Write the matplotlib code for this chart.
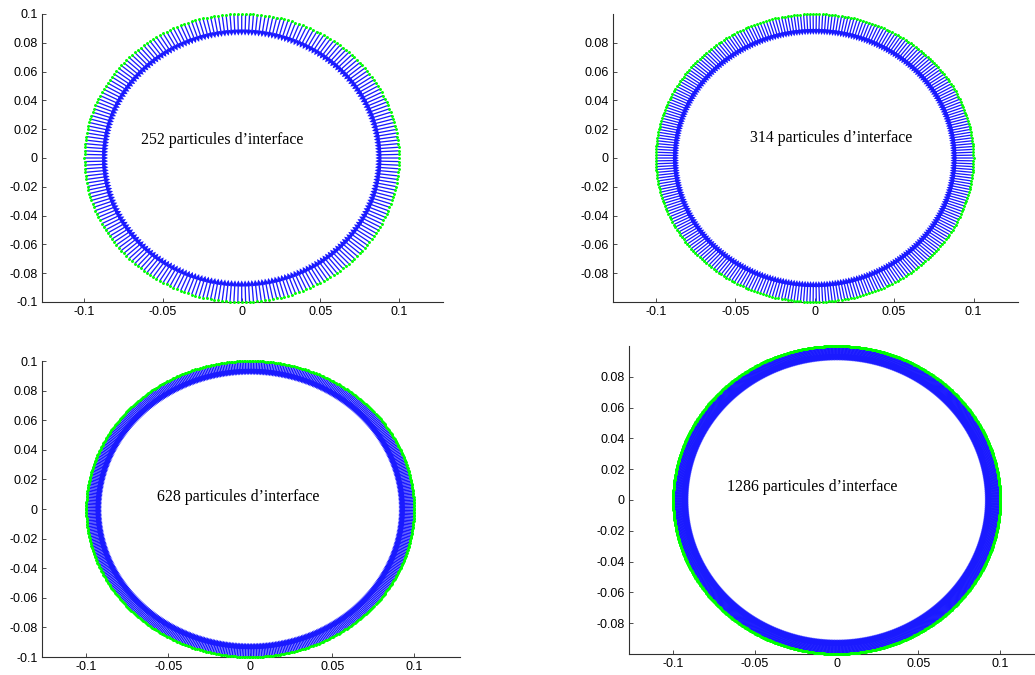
import numpy as np
import matplotlib
matplotlib.use("Agg")
import matplotlib.pyplot as plt

# ---- data ----
n_particles = [252, 314, 628, 1286]
radius = 0.1
arrow_len = [0.015, 0.0145, 0.0095, 0.0095]
labels = ["252 particules d\u2019interface", "314 particules d\u2019interface",
          "628 particules d\u2019interface", "1286 particules d\u2019interface"]
label_pos = [(-0.064, 0.0125), (-0.041, 0.014), (-0.057, 0.008), (-0.067, 0.0085)]
xticks = [-0.1, -0.05, 0, 0.05, 0.1]
xticklabels = ["-0.1", "-0.05", "0", "0.05", "0.1"]
yticks_full = [-0.1, -0.08, -0.06, -0.04, -0.02, 0, 0.02, 0.04, 0.06, 0.08, 0.1]
yticklabels_full = ["-0.1", "-0.08", "-0.06", "-0.04", "-0.02", "0",
                    "0.02", "0.04", "0.06", "0.08", "0.1"]
yticks_short = yticks_full[1:-1]
yticklabels_short = yticklabels_full[1:-1]

W, H = 1035, 675
fig = plt.figure(figsize=(W / 100, H / 100), dpi=100)

# pixel boxes: left, right, top, bottom
boxes = [(42, 443, 14, 302), (613, 1018, 14, 302), (42, 460, 361, 657), (629, 1046, 346, 654)]
full_ticks = [True, False, True, False]

for i, (l, r, t, b) in enumerate(boxes):
    ax = fig.add_axes([l / W, (H - b) / H, (r - l) / W, (b - t) / H])
    n = n_particles[i]
    th = np.linspace(0, 2 * np.pi, n, endpoint=False)
    x = radius * np.cos(th)
    y = radius * np.sin(th)
    u = -arrow_len[i] * np.cos(th)
    v = -arrow_len[i] * np.sin(th)
    ax.quiver(x, y, u, v, angles='xy', scale_units='xy', scale=1, color=(0.1, 0.1, 1.0),
              units='dots', width=1.3, headwidth=5, headlength=5, headaxislength=4.2,
              zorder=2)
    ax.plot(x, y, '.', color=(0, 1, 0), ms=2.2, zorder=3, clip_on=False)
    ax.set_xlim(-0.127, 0.128)
    ax.set_ylim(-0.1, 0.1)
    ax.set_xticks(xticks)
    ax.set_xticklabels(xticklabels)
    if full_ticks[i]:
        ax.set_yticks(yticks_full)
        ax.set_yticklabels(yticklabels_full)
    else:
        ax.set_yticks(yticks_short)
        ax.set_yticklabels(yticklabels_short)
    for s in ('top', 'right'):
        ax.spines[s].set_visible(False)
    for s in ('left', 'bottom'):
        ax.spines[s].set_linewidth(0.8)
        ax.spines[s].set_color('#303030')
    ax.tick_params(direction='in', length=3, width=0.6, labelsize=9, pad=3,
                   colors='#303030', labelcolor='black')
    for lab in ax.get_xticklabels() + ax.get_yticklabels():
        lab.set_family('Liberation Sans')
    ax.set_facecolor('none')
    ax.text(label_pos[i][0], label_pos[i][1], labels[i], ha='left', va='center',
            fontsize=11.4, family='Liberation Serif', color='black', zorder=4)

fig.savefig("out.png", dpi=100)
